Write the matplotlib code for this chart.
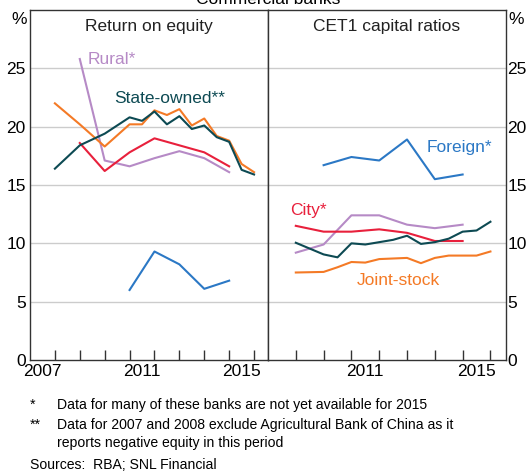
import matplotlib.pyplot as plt
import numpy as np

plt.rcParams['font.family'] = ['Liberation Sans', 'DejaVu Sans']

# annual figures are plotted at the end of the year (e.g. 2007 -> 2008.0)
# Return on equity (%)
roe_state_x = [2008, 2009, 2010, 2011, 2011.5, 2012, 2012.5, 2013, 2013.5, 2014, 2014.5, 2015, 2015.5, 2016]
roe_state = [16.4, 18.4, 19.4, 20.8, 20.5, 21.3, 20.2, 20.9, 19.8, 20.1, 19.1, 18.7, 16.3, 15.9]
roe_joint_x = [2008, 2009, 2010, 2011, 2011.5, 2012, 2012.5, 2013, 2013.5, 2014, 2014.5, 2015, 2015.5, 2016]
roe_joint = [22.0, 20.2, 18.3, 20.2, 20.2, 21.4, 21.0, 21.5, 20.1, 20.7, 19.2, 18.8, 16.8, 16.1]
roe_city_x = [2009, 2010, 2011, 2012, 2013, 2014, 2015]
roe_city = [18.6, 16.2, 17.8, 19.0, 18.4, 17.8, 16.6]
roe_rural_x = [2009, 2010, 2011, 2012, 2013, 2014, 2015]
roe_rural = [25.8, 17.1, 16.6, 17.3, 17.9, 17.3, 16.1]
roe_foreign_x = [2011, 2012, 2013, 2014, 2015]
roe_foreign = [6.0, 9.3, 8.2, 6.1, 6.8]

# CET1 capital ratios (%)
cet_state_x = [2009, 2010, 2010.5, 2011, 2011.5, 2012, 2012.5, 2013, 2013.5, 2014, 2014.5, 2015, 2015.5, 2016]
cet_state = [10.05, 9.05, 8.8, 10.0, 9.9, 10.1, 10.3, 10.65, 9.95, 10.1, 10.4, 11.0, 11.1, 11.85]
cet_joint_x = [2009, 2010, 2010.5, 2011, 2011.5, 2012, 2012.5, 2013, 2013.5, 2014, 2014.5, 2015, 2015.5, 2016]
cet_joint = [7.5, 7.55, 7.95, 8.4, 8.35, 8.65, 8.7, 8.75, 8.3, 8.75, 8.95, 8.95, 8.95, 9.3]
cet_city_x = [2009, 2010, 2011, 2012, 2013, 2014, 2015]
cet_city = [11.5, 11.0, 11.0, 11.2, 10.9, 10.2, 10.2]
cet_rural_x = [2009, 2010, 2011, 2012, 2013, 2014, 2015]
cet_rural = [9.2, 9.9, 12.4, 12.4, 11.6, 11.3, 11.6]
cet_foreign_x = [2010, 2011, 2012, 2013, 2014, 2015]
cet_foreign = [16.7, 17.4, 17.1, 18.9, 15.5, 15.9]

yticks = [0, 5, 10, 15, 20, 25]
year_labels = ['2007', '2011', '2015']

c_state = '#0d4a53'
c_joint = '#f47a26'
c_city = '#e8203c'
c_rural = '#b68ac6'
c_foreign = '#2b78c5'
grid_c = '#cccccc'
spine_c = '#333333'

fig = plt.figure(figsize=(5.27, 4.72), dpi=100)
W, H = 527, 472
ax1 = fig.add_axes([30 / W, (H - 360) / H, 238 / W, 350 / H])
ax2 = fig.add_axes([268 / W, (H - 360) / H, 238 / W, 350 / H])

lw = 1.5
ax1.plot(roe_rural_x, roe_rural, color=c_rural, lw=lw)
ax1.plot(roe_city_x, roe_city, color=c_city, lw=lw)
ax1.plot(roe_foreign_x, roe_foreign, color=c_foreign, lw=lw)
ax1.plot(roe_joint_x, roe_joint, color=c_joint, lw=lw)
ax1.plot(roe_state_x, roe_state, color=c_state, lw=lw)

ax2.plot(cet_rural_x, cet_rural, color=c_rural, lw=lw)
ax2.plot(cet_city_x, cet_city, color=c_city, lw=lw)
ax2.plot(cet_foreign_x, cet_foreign, color=c_foreign, lw=lw)
ax2.plot(cet_joint_x, cet_joint, color=c_joint, lw=lw)
ax2.plot(cet_state_x, cet_state, color=c_state, lw=lw)

for ax, x0, years in [(ax1, 2007, range(2008, 2017)), (ax2, 2008, range(2009, 2017))]:
    ax.set_xlim(x0, 2016.56)
    ax.set_ylim(0, 30)
    for y in yticks[1:]:
        ax.axhline(y, color=grid_c, lw=1, zorder=0)
    ax.set_xticks(list(years))
    ax.set_xticklabels([])
    ax.tick_params(axis='x', which='major', direction='in', length=7, color=spine_c, width=1)
    ax.set_xticks([float(y) + 0.5 for y in year_labels if float(y) + 0.5 > x0], minor=True)
    ax.set_xticklabels([y for y in year_labels if float(y) + 0.5 > x0], minor=True)
    ax.tick_params(axis='x', which='minor', length=0, labelsize=12.5, pad=3)
    for s in ax.spines.values():
        s.set_color(spine_c)
        s.set_linewidth(1)
    ax.set_yticks(yticks)

ax1.tick_params(axis='y', length=0, labelsize=12.5, pad=3, left=True, labelleft=True)
ax2.tick_params(axis='y', length=0, labelsize=12.5, pad=1, left=False, labelleft=False, right=True, labelright=True)

ax1.set_title('Return on equity', fontsize=12.5, y=0.915, color='#222222')
ax2.set_title('CET1 capital ratios', fontsize=12.5, y=0.915, color='#222222')

fig.text(11 / W, 1 - 19 / H, '%', fontsize=12.5, va='center', ha='left')
fig.text(508 / W, 1 - 19 / H, '%', fontsize=12.5, va='center', ha='left')
fig.text(268 / W, 1 - 0 / H, 'Commercial banks', fontsize=12.5, va='center', ha='center')

ax1.text(2009.3, 25.8, 'Rural*', color=c_rural, fontsize=12.5, va='center')
ax1.text(2010.4, 22.4, 'State-owned**', color=c_state, fontsize=12.5, va='center')
ax2.text(2013.7, 18.25, 'Foreign*', color=c_foreign, fontsize=12.5, va='center')
ax2.text(2008.8, 12.8, 'City*', color=c_city, fontsize=12.5, va='center')
ax2.text(2011.2, 6.8, 'Joint-stock', color=c_joint, fontsize=12.5, va='center')

fs = 10.1
fig.text(30 / W, 1 - 405 / H, '*', fontsize=fs, va='center')
fig.text(57 / W, 1 - 405 / H, 'Data for many of these banks are not yet available for 2015', fontsize=fs, va='center')
fig.text(30 / W, 1 - 425 / H, '**', fontsize=fs, va='center')
fig.text(57 / W, 1 - 425 / H, 'Data for 2007 and 2008 exclude Agricultural Bank of China as it', fontsize=fs, va='center')
fig.text(57 / W, 1 - 443 / H, 'reports negative equity in this period', fontsize=fs, va='center')
fig.text(30 / W, 1 - 465 / H, 'Sources:  RBA; SNL Financial', fontsize=fs, va='center')

fig.savefig('out.png', dpi=100)
